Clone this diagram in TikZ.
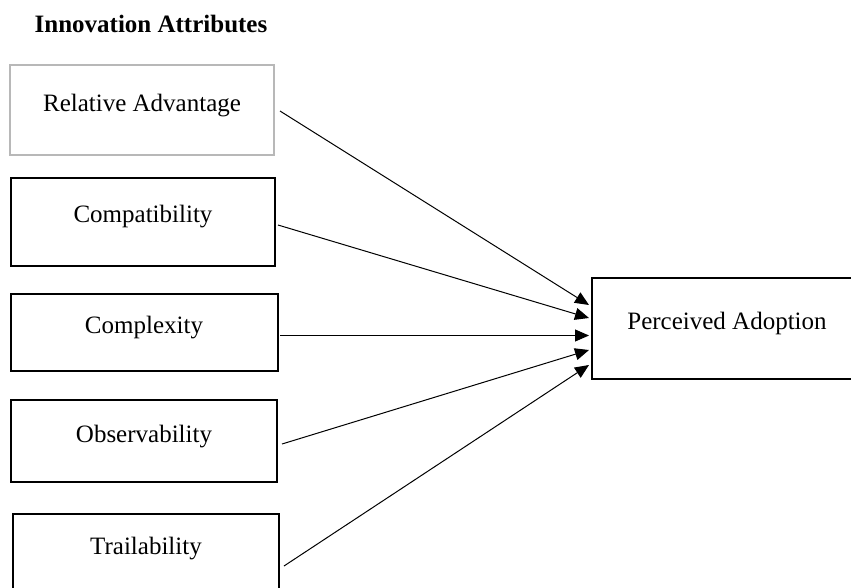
\documentclass[tikz,border=0pt]{standalone}
\usepackage{fontspec}
\setmainfont{Liberation Serif}
\usetikzlibrary{arrows.meta,calc}
\begin{document}
\begin{tikzpicture}[x=1pt,y=-1pt,
  every node/.style={font=\fontsize{25}{30}\selectfont},
  box/.style={draw=black,line width=2pt,inner sep=0pt,rectangle},
  graybox/.style={box,draw=black!28},
  lbl/.style={anchor=base,inner sep=0pt},
  conn/.style={-{Triangle[length=14pt,width=12pt]},line width=1pt}]
\clip (0,0) rectangle (851,587);
\fill[white] (0,0) rectangle (851,587);
\node[lbl,font=\fontsize{25}{30}\selectfont\bfseries] (title) at (151,32) {Innovation Attributes};
\node[graybox,minimum width=264pt,minimum height=90pt] (b1) at (142,110) {};
\node[box,minimum width=264pt,minimum height=88pt] (b2) at (143,222) {};
\node[box,minimum width=267pt,minimum height=77pt] (b3) at (144.5,332.5) {};
\node[box,minimum width=266pt,minimum height=82pt] (b4) at (144,441) {};
\node[box,minimum width=266pt,minimum height=98pt] (b5) at (146,563) {};
\node[box,minimum width=278pt,minimum height=101pt] (pa) at (731,328.5) {};
\node[lbl] (t1) at (142,111) {Relative Advantage};
\node[lbl] (t2) at (143,222) {Compatibility};
\node[lbl] (t3) at (144,333) {Complexity};
\node[lbl] (t4) at (144,442) {Observability};
\node[lbl] (t5) at (146,554) {Trailability};
\node[lbl] (tpa) at (727,329) {Perceived Adoption};
\draw[conn] ($(b1.east)+(5,1)$) -- ($(pa.west)+(-2,-23.5)$);
\draw[conn] ($(b2.east)+(2,3)$) -- ($(pa.west)+(-2,-10.5)$);
\draw[conn] ($(b3.east)+(1,3)$) -- ($(pa.west)+(-2,7)$);
\draw[conn] ($(b4.east)+(4,3)$) -- ($(pa.west)+(-2,21.5)$);
\draw[conn] ($(b5.east)+(4,3)$) -- ($(pa.west)+(-2,36.5)$);
\end{tikzpicture}
\end{document}
